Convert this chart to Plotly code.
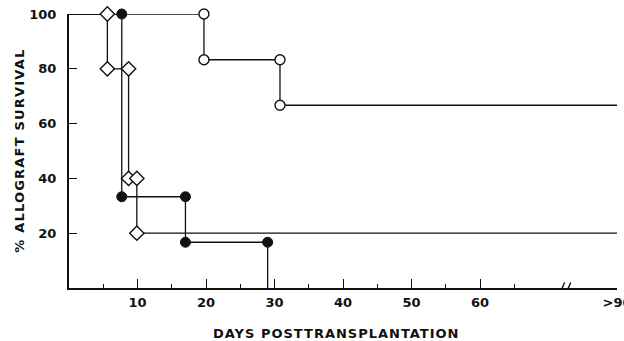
import plotly.graph_objects as go

# ---- data (x in axis units; the ">90" category sits at position 80) ----
GT90 = 80
x_tick_vals = [10, 20, 30, 40, 50, 60, GT90]
x_tick_text = ["10", "20", "30", "40", "50", "60", ">90"]
x_minor_vals = [5, 15, 25, 35, 45, 55, 65]
y_tick_vals = [20, 40, 60, 80, 100]
y_tick_text = ["20", "40", "60", "80", "100"]

# open circles
open_step_x = [0, 19.7, 30.8, GT90]
open_step_y = [100, 83.3, 66.7, 66.7]
open_mark_x = [19.7, 19.7, 30.8, 30.8]
open_mark_y = [100, 83.3, 83.3, 66.7]

# diamonds
dia_step_x = [0, 5.6, 8.7, 9.9, GT90]
dia_step_y = [100, 80, 40, 20, 20]
dia_mark_x = [5.6, 5.6, 8.7, 8.7, 9.9, 9.9]
dia_mark_y = [100, 80, 80, 40, 40, 20]

# filled circles
fill_step_x = [0, 7.7, 17.0, 29.0, 29.0]
fill_step_y = [100, 33.3, 16.7, 0, 0]
fill_mark_x = [7.7, 7.7, 17.0, 17.0, 29.0]
fill_mark_y = [100, 33.3, 33.3, 16.7, 16.7]

INK = "#111111"
FONT = "DejaVu Sans"

fig = go.Figure()

for sx, sy in [(open_step_x, open_step_y), (dia_step_x, dia_step_y), (fill_step_x, fill_step_y)]:
    fig.add_trace(go.Scatter(x=sx, y=sy, mode="lines", line=dict(color=INK, width=1.3, shape="hv"),
                             cliponaxis=False, showlegend=False, hoverinfo="skip"))

fig.add_trace(go.Scatter(x=open_mark_x, y=open_mark_y, mode="markers", cliponaxis=False, showlegend=False,
                         marker=dict(symbol="circle", size=10, color="white", line=dict(color=INK, width=1.4))))
fig.add_trace(go.Scatter(x=dia_mark_x, y=dia_mark_y, mode="markers", cliponaxis=False, showlegend=False,
                         marker=dict(symbol="diamond", size=11, color="white", line=dict(color=INK, width=1.4))))
fig.add_trace(go.Scatter(x=fill_mark_x, y=fill_mark_y, mode="markers", cliponaxis=False, showlegend=False,
                         marker=dict(symbol="circle", size=10, color=INK, line=dict(color=INK, width=1))))

fig.update_xaxes(range=[0, GT90], showline=True, linecolor=INK, linewidth=2, showgrid=False, zeroline=False,
                 automargin=False, ticklabeloverflow="allow",
                 tickmode="array", tickvals=x_tick_vals, ticktext=x_tick_text, ticks="inside",
                 ticklen=9, tickwidth=1.4, tickcolor=INK, ticklabelstandoff=1,
                 tickfont=dict(family=FONT, size=13, color=INK, weight="bold"),
                 minor=dict(tickvals=x_minor_vals, ticks="inside", ticklen=4, tickwidth=1.2, tickcolor=INK))
fig.update_yaxes(range=[0, 100], showline=True, linecolor=INK, linewidth=2, showgrid=False, zeroline=False,
                 automargin=False, ticklabeloverflow="allow",
                 tickmode="array", tickvals=y_tick_vals, ticktext=y_tick_text, ticks="inside",
                 ticklen=8, tickwidth=1.4, tickcolor=INK, ticklabelstandoff=8,
                 tickfont=dict(family=FONT, size=13, color=INK, weight="bold"))

# axis break marks
for cx in [72.0, 72.9]:
    fig.add_shape(type="line", xref="x", yref="y", x0=cx - 0.35, y0=-2, x1=cx + 0.35, y1=2,
                  line=dict(color=INK, width=1.4))

title_font = dict(family=FONT, size=13, color=INK, weight="bold")
fig.add_annotation(text='<span style="letter-spacing:1.2px">% ALLOGRAFT SURVIVAL</span>',
                   xref="paper", yref="paper", x=-0.0894, y=0.501, textangle=-90,
                   showarrow=False, font=title_font, xanchor="center", yanchor="middle")
fig.add_annotation(text='<span style="letter-spacing:1px">DAYS POSTTRANSPLANTATION</span>',
                   xref="paper", yref="paper", x=0.489, y=-0.1645,
                   showarrow=False, font=title_font, xanchor="center", yanchor="middle")

fig.update_layout(width=624, height=341, margin=dict(l=69, r=7, t=14, b=53, autoexpand=False),
                  plot_bgcolor="white", paper_bgcolor="white")

# remove the page's default body margin so the figure fills the window exactly
fig.write_html("out.html", config={"displayModeBar": False},
               post_script="document.body.style.margin='0';document.body.style.overflow='hidden';")
